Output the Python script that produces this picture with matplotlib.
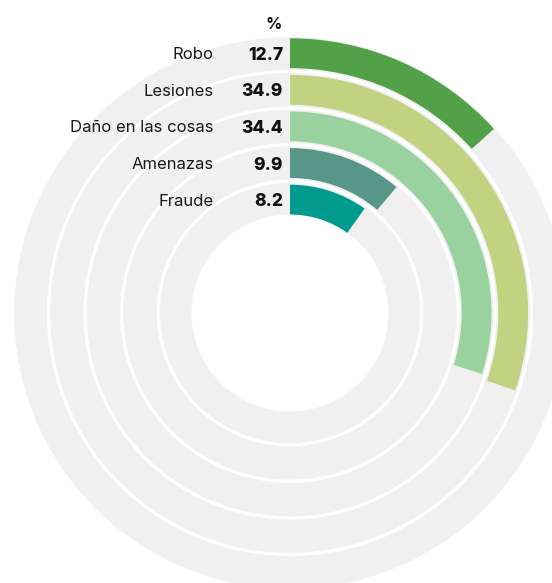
import numpy as np
import matplotlib
matplotlib.use("Agg")
import matplotlib.pyplot as plt

# === DATA (outer ring first) ===
categories = ["Robo", "Lesiones", "Daño en las cosas", "Amenazas", "Fraude"]
values = [12.7, 34.9, 34.4, 9.9, 8.2]
value_labels = ["12.7", "34.9", "34.4", "9.9", "8.2"]
colors = ["#52a047", "#c2d280", "#99d19f", "#579688", "#009a8e"]

# === LAYOUT (pixels) ===
W, H = 552, 583
CX, CY = 290, 313          # ring centre
R_OUT = 276                # outer edge of grey track
R_IN = 98.5                # hole
PITCH = 36.6               # one ring
BAR_W = 29.8               # bar thickness
DEG_PER_UNIT = 2.75        # angular scale of the infographic
DEG_OFFSET = 13.0
GREY = "#f0f0f0"

plt.rcParams["font.family"] = ["Inter", "DejaVu Sans"]

fig = plt.figure(figsize=(W / 100, H / 100), dpi=100)
ax = fig.add_axes([(CX - R_OUT) / W, (H - CY - R_OUT) / H, 2 * R_OUT / W, 2 * R_OUT / H],
                  projection="polar")
ax.set_theta_zero_location("N")
ax.set_theta_direction(-1)
ax.set_ylim(0, R_OUT)
ax.set_axis_off()

# grey track + white separators
ax.bar(0, R_OUT - R_IN, width=2 * np.pi, bottom=R_IN, color=GREY, align="edge", linewidth=0)
full = np.linspace(0, 2 * np.pi, 400)
for i in range(1, 5):
    r = R_IN + i * PITCH - (PITCH - BAR_W) / 2
    ax.plot(full, np.full_like(full, r), color="white", lw=2.3)

n = len(values)
for i, (cat, v, lab, c) in enumerate(zip(categories, values, value_labels, colors)):
    ring = n - 1 - i
    r0 = R_IN + ring * PITCH
    theta = np.deg2rad(DEG_OFFSET + v * DEG_PER_UNIT)
    ax.bar(0, BAR_W, width=theta, bottom=r0, color=c, align="edge", linewidth=0)
    rm = r0 + BAR_W / 2
    ax.annotate(cat, xy=(0, rm), xytext=(-76, 0), textcoords="offset pixels",
                ha="right", va="center_baseline", fontsize=12, color="#1a1a1a")
    ax.annotate(lab, xy=(0, rm), xytext=(-7, 0), textcoords="offset pixels",
                ha="right", va="center_baseline", fontsize=12.5, fontweight="heavy",
                color="#111111")

fig.text(274 / W, 1 - 23 / H, "%", ha="center", va="center_baseline",
         fontsize=11.5, fontweight="bold", color="#111111")

fig.savefig("out.png", dpi=100)
